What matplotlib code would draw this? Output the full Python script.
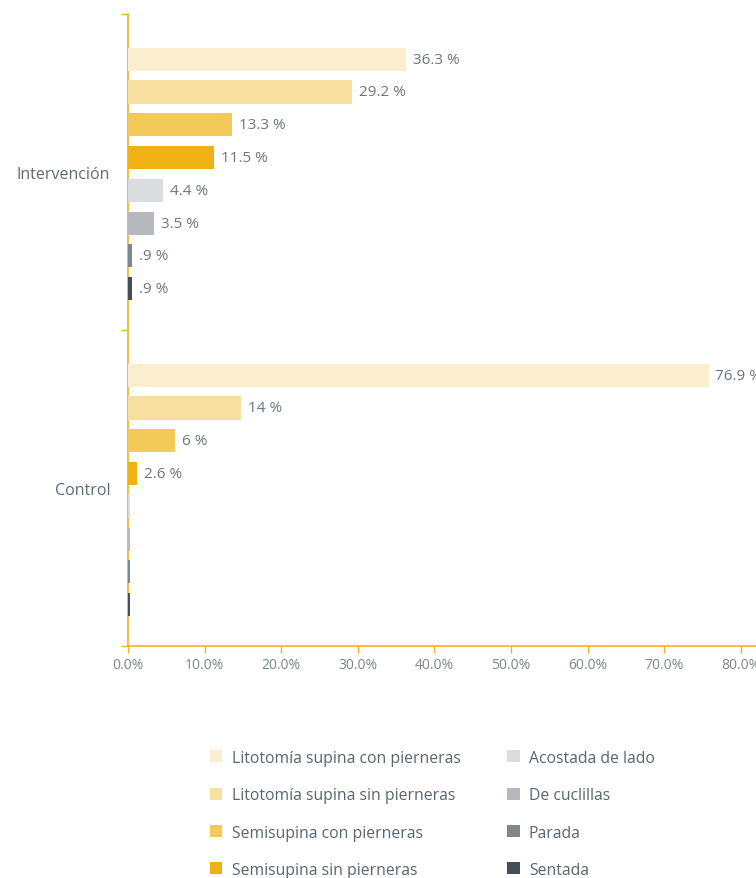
#!/usr/bin/env python3
"""Posición durante el parto: Intervención vs Control (barras horizontales)."""

import matplotlib
matplotlib.use('Agg')
import matplotlib.pyplot as plt
from matplotlib.patches import Patch

plt.rcParams.update({
    'font.family': ['Open Sans', 'DejaVu Sans'],
    'font.size': 10,
})

GROUPS = ['Intervención', 'Control']
POSITIONS = [
    'Litotomía supina con pierneras',
    'Litotomía supina sin pierneras',
    'Semisupina con pierneras',
    'Semisupina sin pierneras',
    'Acostada de lado',
    'De cuclillas',
    'Parada',
    'Sentada',
]
COLORS = ['#fbeecf', '#f8e0a0', '#f3c95a', '#efb113',
          '#dadde0', '#b5b9bd', '#7f868c', '#454f58']

# bar lengths as drawn in the picture (%)
INTERVENCION = [36.3, 29.2, 13.5, 11.2, 4.5, 3.4, 0.45, 0.45]
CONTROL = [75.8, 14.7, 6.1, 1.1, 0.25, 0.25, 0.25, 0.25]
# printed labels
INTERVENCION_LBL = ['36.3 %', '29.2 %', '13.3 %', '11.5 %', '4.4 %', '3.5 %', '.9 %', '.9 %']
CONTROL_LBL = ['76.9 %', '14 %', '6 %', '2.6 %', '', '', '', '']

XTICKS = [0, 10, 20, 30, 40, 50, 60, 70, 80]

AXIS_COLOR = '#f0b323'
TEXT_COLOR = '#6c7680'

fig = plt.figure(figsize=(7.56, 8.79), dpi=100)
ax = fig.add_axes([128.3 / 756, 1 - 647 / 879, 1 - 128.3 / 756 + 0.01, (647 - 15) / 879])

step = 0.1037
height = 0.073
shift = 0.006
values = [INTERVENCION, CONTROL]
labels = [INTERVENCION_LBL, CONTROL_LBL]
for j, (name, color) in enumerate(zip(POSITIONS, COLORS)):
    ys = [g + (j - 3.5) * step + shift for g in range(len(GROUPS))]
    vals = [values[g][j] for g in range(len(GROUPS))]
    bars = ax.barh(ys, vals, height=height, color=color, label=name, zorder=3)
    ax.bar_label(bars, labels=[labels[g][j] for g in range(len(GROUPS))],
                 padding=5, color=TEXT_COLOR, fontsize=11)

ax.set_ylim(1.5, -0.5)
ax.set_xlim(0, 80 * (756 - 128.3) / (739.3 - 128.3) + 0.8)
ax.set_yticks(range(len(GROUPS)))
ax.set_yticklabels(GROUPS, fontsize=11.5, color='#5f6b75')
ax.set_yticks([-0.5, 0.5, 1.5], minor=True)
ax.tick_params(axis='y', which='major', length=0, pad=13)
ax.tick_params(axis='y', which='minor', length=5, color=AXIS_COLOR, width=1)

ax.set_xticks(XTICKS)
ax.set_xticklabels([f'{t:.1f}%' for t in XTICKS], fontsize=10, color='#7d868f')
ax.tick_params(axis='x', length=5, color=AXIS_COLOR, width=1, pad=3)

for side in ['top', 'right']:
    ax.spines[side].set_visible(False)
for side in ['left', 'bottom']:
    ax.spines[side].set_color(AXIS_COLOR)
    ax.spines[side].set_linewidth(1.2)

handles = [Patch(facecolor=c, edgecolor='none') for c in COLORS]
leg = fig.legend(handles, POSITIONS, loc='upper left',
                 bbox_to_anchor=(202 / 756, 1 - 743 / 879), ncol=2,
                 frameon=False, fontsize=11.3, borderpad=0,
                 handlelength=0.8, handleheight=0.8, handletextpad=0.6,
                 labelspacing=1.36, columnspacing=2.95)
for t in leg.get_texts():
    t.set_color('#5a6570')

fig.savefig('out.png', dpi=100)
